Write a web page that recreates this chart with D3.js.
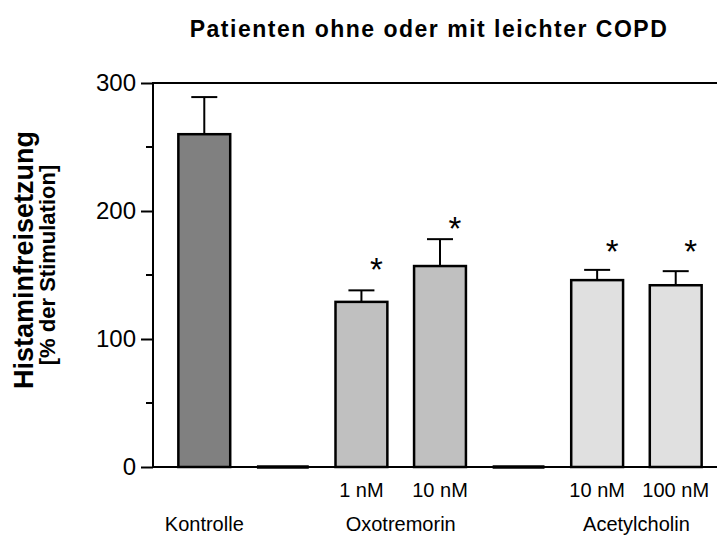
<!DOCTYPE html>
<html>
<head>
<meta charset="utf-8">
<script src="https://cdn.jsdelivr.net/npm/d3@7"></script>
<style>
  body { margin: 0; background: #fff; }
  svg { display: block; font-family: Arial, "Liberation Sans", sans-serif; }
</style>
</head>
<body>
<div id="chart"></div>
<script>
// slots along the x axis (two empty slots separate the groups)
const slots = ["K", "gap1", "O1", "O10", "gap2", "A10", "A100"];
const doseLabels = ["", "", "1 nM", "10 nM", "", "10 nM", "100 nM"];
const slotGroup = ["Kontrolle", null, "Oxotremorin", "Oxotremorin", null, "Acetylcholin", "Acetylcholin"];
const means = [260, 0, 129, 157, 0, 146, 142];
const sem = [29, 0, 9, 21, 0, 8, 11];
// height (in % units) where the significance star sits
const starLevel = [null, null, 158, 190, null, 172, 172];

const groupNames = ["Kontrolle", "Oxotremorin", "Acetylcholin"];
const yTicks = [0, 100, 200, 300];
const yMinorTicks = [50, 150, 250];

const title = "Patienten ohne oder mit leichter COPD";
const yTitle = "Histaminfreisetzung";
const ySubTitle = "[% der Stimulation]";

const groupFill = {"Kontrolle": "#808080", "Oxotremorin": "#c0c0c0", "Acetylcholin": "#e0e0e0"};

const W = 718, H = 536;
const axisX = 153;

const svg = d3.select("#chart").append("svg")
    .attr("width", W)
    .attr("height", H);

const xScale = d3.scaleBand()
    .domain(slots)
    .range([165, 715])
    .paddingInner(0.34)
    .paddingOuter(0.17);

const yScale = d3.scaleLinear()
    .domain([0, 300])
    .range([467, 83]);

const bw = xScale.bandwidth();
const cx = s => xScale(s) + bw / 2;

// top frame line and baseline
[300, 0].forEach(v => {
  svg.append("line")
     .attr("x1", axisX).attr("x2", 717)
     .attr("y1", yScale(v)).attr("y2", yScale(v))
     .attr("stroke", "#000").attr("stroke-width", 2);
});

// y axis
const yAxis = d3.axisLeft(yScale)
    .tickValues(yTicks)
    .tickSize(12)
    .tickPadding(5);
const gy = svg.append("g")
    .attr("transform", `translate(${axisX},0)`)
    .call(yAxis);
gy.select(".domain").attr("stroke-width", 2).attr("d", `M0,${yScale(0) + 1}V${yScale(300) - 1}`);
gy.selectAll(".tick line").attr("stroke-width", 2);
gy.selectAll(".tick text")
  .attr("font-size", "24px")
  .attr("font-family", "Arial, 'Liberation Sans', sans-serif")
  .attr("fill", "#000");

svg.append("g")
   .selectAll("line")
   .data(yMinorTicks)
   .enter().append("line")
   .attr("x1", axisX - 7).attr("x2", axisX)
   .attr("y1", d => yScale(d)).attr("y2", d => yScale(d))
   .attr("stroke", "#000").attr("stroke-width", 2);

// data rows
const rows = slots.map((s, i) => ({
  slot: s, dose: doseLabels[i], group: slotGroup[i],
  mean: means[i], sem: sem[i], star: starLevel[i]
}));

// empty slots: heavier baseline segment
svg.append("g")
   .selectAll("line")
   .data(rows.filter(d => d.group === null))
   .enter().append("line")
   .attr("x1", d => xScale(d.slot)).attr("x2", d => xScale(d.slot) + bw)
   .attr("y1", yScale(0)).attr("y2", yScale(0))
   .attr("stroke", "#000").attr("stroke-width", 3.5);

const real = rows.filter(d => d.group !== null);

// error bars (upper only)
const eb = svg.append("g").attr("stroke", "#000").attr("stroke-width", 2);
eb.selectAll(".ev")
  .data(real)
  .enter().append("line")
  .attr("x1", d => cx(d.slot)).attr("x2", d => cx(d.slot))
  .attr("y1", d => yScale(d.mean)).attr("y2", d => yScale(d.mean + d.sem));
eb.selectAll(".ec")
  .data(real)
  .enter().append("line")
  .attr("x1", d => cx(d.slot) - 13).attr("x2", d => cx(d.slot) + 13)
  .attr("y1", d => yScale(d.mean + d.sem)).attr("y2", d => yScale(d.mean + d.sem));

// bars
svg.append("g")
   .selectAll("rect")
   .data(real)
   .enter().append("rect")
   .attr("x", d => xScale(d.slot))
   .attr("y", d => yScale(d.mean))
   .attr("width", bw)
   .attr("height", d => yScale(0) - yScale(d.mean))
   .attr("fill", d => groupFill[d.group])
   .attr("stroke", "#000")
   .attr("stroke-width", 2.5);

// significance stars
svg.append("g")
   .selectAll("text")
   .data(real.filter(d => d.star !== null))
   .enter().append("text")
   .attr("x", d => cx(d.slot) + 15)
   .attr("y", d => yScale(d.star))
   .attr("dy", "0.5em")
   .attr("text-anchor", "middle")
   .attr("font-size", "33px")
   .text("*");

// dose labels
svg.append("g")
   .selectAll("text")
   .data(real.filter(d => d.dose !== ""))
   .enter().append("text")
   .attr("x", d => cx(d.slot))
   .attr("y", 497)
   .attr("text-anchor", "middle")
   .attr("font-size", "20px")
   .text(d => d.dose);

// group labels, centred under their bars
svg.append("g")
   .selectAll("text")
   .data(groupNames)
   .enter().append("text")
   .attr("x", g => d3.mean(real.filter(d => d.group === g), d => cx(d.slot)))
   .attr("y", 531)
   .attr("text-anchor", "middle")
   .attr("font-size", "20px")
   .text(g => g);

// chart title
svg.append("text")
   .attr("x", 429)
   .attr("y", 37)
   .attr("text-anchor", "middle")
   .attr("font-size", "23px")
   .attr("font-weight", "700")
   .attr("letter-spacing", "1.5px")
   .text(title);

// y axis titles
svg.append("text")
   .attr("transform", "translate(33,260) rotate(-90)")
   .attr("text-anchor", "middle")
   .attr("font-size", "27px")
   .attr("font-weight", "700")
   .text(yTitle);

svg.append("text")
   .attr("transform", "translate(55,265) rotate(-90)")
   .attr("text-anchor", "middle")
   .attr("font-size", "22px")
   .attr("font-weight", "700")
   .text(ySubTitle);
</script>
</body>
</html>
